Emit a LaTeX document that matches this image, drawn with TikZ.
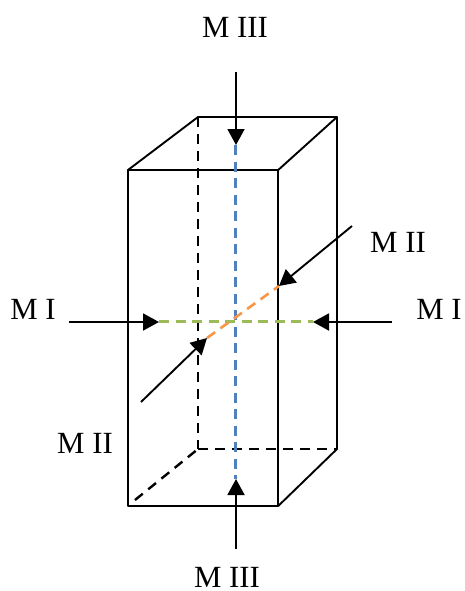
\documentclass[tikz,border=0pt]{standalone}
\usepackage{fontspec}
\setmainfont{Liberation Serif}
\usetikzlibrary{arrows.meta}
\definecolor{axisblue}{RGB}{79,129,189}
\definecolor{axisgreen}{RGB}{155,187,89}
\definecolor{axisorange}{RGB}{247,150,70}
\tikzset{
  edge/.style={line width=1.9pt,black,line cap=round,line join=round},
  hidden/.style={line width=2.4pt,black,dash pattern=on 10pt off 7pt},
  axisline/.style={line width=2.6pt,dash pattern=on 10pt off 6.5pt},
  pusher/.style={line width=1.9pt,black,-{Triangle[length=16pt,width=17pt]},shorten >=0pt},
  lab/.style={font=\fontsize{30.8}{33}\selectfont,inner sep=0pt,text=black}
}
\begin{document}
\begin{tikzpicture}[x=1pt,y=-1pt]
\useasboundingbox (0,0) rectangle (465,591);
% box corners
\coordinate (ftl) at (128,170);
\coordinate (ftr) at (278.2,170);
\coordinate (fbl) at (128,506);
\coordinate (fbr) at (278.2,506);
\coordinate (btl) at (198,117);
\coordinate (btr) at (337,117);
\coordinate (bbl) at (198,449);
\coordinate (bbr) at (337,449);
\coordinate (dashend) at (135,500);
% axis ends
\coordinate (bluetop) at (235.6,145);
\coordinate (bluebot) at (235.6,479);
\coordinate (greenl) at (159,321.6);
\coordinate (greenr) at (313,321.6);
\coordinate (orangel) at (207,338);
\coordinate (oranger) at (279,286);
% arrow heads' tips
\coordinate (tip3a) at (236,145);
\coordinate (tip3b) at (236,479);
\coordinate (tip1a) at (159,322);
\coordinate (tip1b) at (313,322);
% arrow tails
\coordinate (t3a) at (236,72);
\coordinate (t3b) at (236,549);
\coordinate (t1a) at (69,322);
\coordinate (t1b) at (392,322);
\coordinate (t2a) at (141,402);
\coordinate (t2b) at (352,226);
% box
\draw[hidden] (btl) -- (bbl);
\draw[hidden] (bbl) -- (bbr);
\draw[hidden] (dashend) -- (bbl);
\draw[edge] (ftl) rectangle (fbr);
\draw[edge] (ftl) -- (btl) -- (btr) -- (bbr) -- (fbr);
\draw[edge] (ftr) -- (btr);
% axes
\draw[axisline,axisblue] (bluetop) -- (bluebot);
\draw[axisline,axisgreen] (greenl) -- (greenr);
\draw[axisline,axisorange] (orangel) -- (oranger);
% arrows
\draw[pusher] (t3a) -- (tip3a);
\draw[pusher] (t3b) -- (tip3b);
\draw[pusher] (t1a) -- (tip1a);
\draw[pusher] (t1b) -- (tip1b);
\draw[pusher] (t2a) -- (orangel);
\draw[pusher] (t2b) -- (oranger);
% labels
\node[lab] (m3a) at (235,27) {M III};
\node[lab] (m3b) at (227,577) {M III};
\node[lab] (m1a) at (33,309) {M I};
\node[lab] (m1b) at (439,309) {M I};
\node[lab] (m2a) at (398,242) {M II};
\node[lab] (m2b) at (85,443) {M II};
\end{tikzpicture}
\end{document}
